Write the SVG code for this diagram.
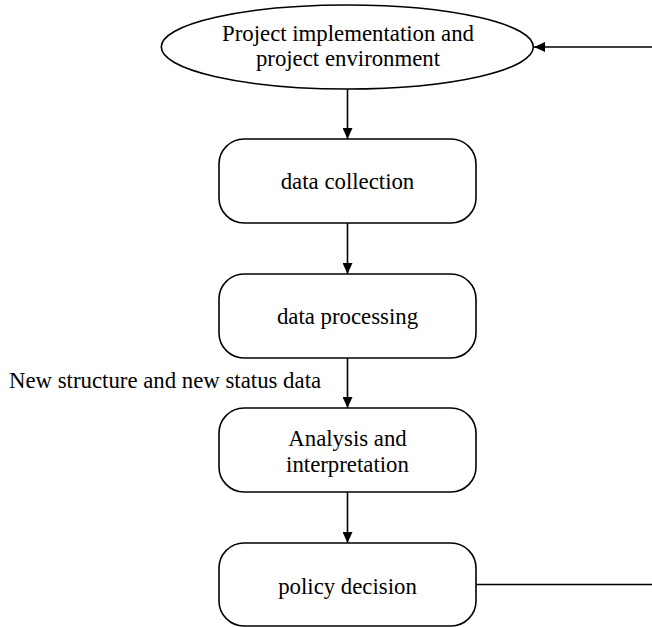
<svg xmlns="http://www.w3.org/2000/svg" width="652" height="627" viewBox="0 0 652 627">
<style>
.n{fill:#fff;stroke:#000;stroke-width:1.6}
.t{font-family:"Liberation Serif","Times New Roman",serif;font-size:22.8px;fill:#000;text-anchor:middle}
.l{font-family:"Liberation Serif","Times New Roman",serif;font-size:22.8px;fill:#000}
.c{fill:none;stroke:#000;stroke-width:1.6}
</style>
<defs>
<marker id="ah" markerWidth="11" markerHeight="10" refX="11" refY="5" orient="auto" markerUnits="userSpaceOnUse">
<path d="M0,0 L11,5 L0,10 Z" fill="#000"/>
</marker>
</defs>
<rect width="652" height="627" fill="#fff"/>
<g id="connectors">
<line class="c" x1="347.5" y1="89" x2="347.5" y2="139" marker-end="url(#ah)"/>
<line class="c" x1="347.5" y1="223" x2="347.5" y2="274" marker-end="url(#ah)"/>
<line class="c" x1="347.5" y1="358" x2="347.5" y2="408" marker-end="url(#ah)"/>
<line class="c" x1="347.5" y1="492" x2="347.5" y2="543" marker-end="url(#ah)"/>
<line class="c" x1="652" y1="47" x2="534" y2="47" marker-end="url(#ah)"/>
<line class="c" x1="476" y1="584.5" x2="652" y2="584.5"/>
<text class="l" x="9" y="388">New structure and new status data</text>
</g>
<g id="project">
<ellipse class="n" cx="347.3" cy="47" rx="186" ry="42"/>
<text class="t" x="348" y="41">Project implementation and</text>
<text class="t" x="348" y="66">project environment</text>
</g>
<g id="collection">
<rect class="n" x="219" y="139" width="257" height="84" rx="25"/>
<text class="t" x="347.5" y="189">data collection</text>
</g>
<g id="processing">
<rect class="n" x="219" y="274" width="257" height="84" rx="25"/>
<text class="t" x="347.5" y="323.5">data processing</text>
</g>
<g id="analysis">
<rect class="n" x="219" y="408" width="257" height="84" rx="25"/>
<text class="t" x="347.5" y="446">Analysis and</text>
<text class="t" x="347.5" y="472">interpretation</text>
</g>
<g id="policy">
<rect class="n" x="219" y="543" width="257" height="83" rx="25"/>
<text class="t" x="347.5" y="593.5">policy decision</text>
</g>
</svg>
